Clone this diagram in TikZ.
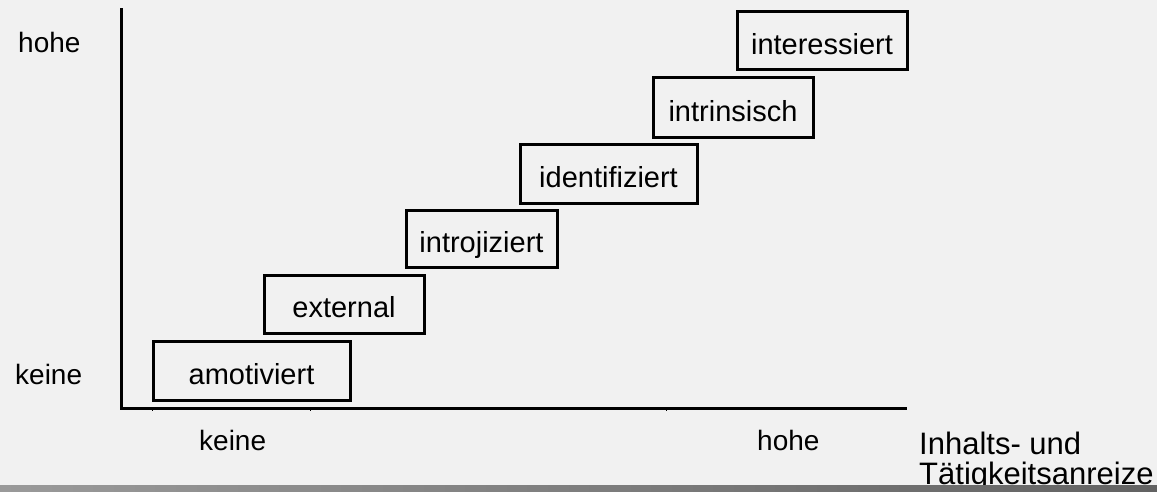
\documentclass[tikz,border=0pt]{standalone}
\usepackage{fontspec}
\setmainfont{Liberation Sans}
\definecolor{bg}{HTML}{F1F1F1}
\definecolor{barL}{HTML}{9A9A9A}
\definecolor{barR}{HTML}{626262}
\begin{document}
\begin{tikzpicture}[x=1pt,y=-1pt,
  stepbox/.style={draw=black, line width=3pt, inner sep=0pt, text height=27pt, text depth=0pt,
    font=\fontsize{29}{34}\selectfont},
  axislab/.style={inner sep=0pt, anchor=base west, font=\fontsize{28}{33}\selectfont},
  titlelab/.style={inner sep=0pt, anchor=base west, font=\fontsize{31}{36}\selectfont},
  axisline/.style={line width=3pt, line cap=rect},
  tickmark/.style={line width=1pt}]
\useasboundingbox (0,0) rectangle (1157,492);
\fill[bg] (0,0) rectangle (1157,492);
% axes
\coordinate (Y) at (121.5,10);
\coordinate (O) at (121.5,408);
\coordinate (X) at (905,408);
\draw[axisline] (Y) -- (O) -- (X);
\draw[tickmark] (152,408) -- ++(0,3);
\draw[tickmark] (310,408) -- ++(0,3);
\draw[tickmark] (666,408) -- ++(0,3);
% boxes
\node[stepbox, minimum width=197pt, minimum height=59pt] (b1) at (251.5,370.5) {amotiviert};
\node[stepbox, minimum width=160pt, minimum height=58pt] (b2) at (344,304) {external};
\node[stepbox, minimum width=151pt, minimum height=57pt] (b3) at (481.5,238.5) {introjiziert};
\node[stepbox, minimum width=177pt, minimum height=58pt] (b4) at (608.5,174) {identifiziert};
\node[stepbox, minimum width=160pt, minimum height=60pt] (b5) at (733,108) {intrinsisch};
\node[stepbox, minimum width=170pt, minimum height=58pt] (b6) at (822,41) {interessiert};
% axis labels
\node[axislab] (yhigh) at (18,53) {hohe};
\node[axislab] (ylow) at (15,384) {keine};
\node[axislab] (xlow) at (199,450) {keine};
\node[axislab] (xhigh) at (757,450) {hohe};
\node[titlelab] (t1) at (919,454) {Inhalts- und};
\node[titlelab] (t2) at (919,484) {Tätigkeitsanreize};
% bottom bar
\shade[left color=barL, right color=barR] (0,485) rectangle (1157,492);
\end{tikzpicture}
\end{document}
